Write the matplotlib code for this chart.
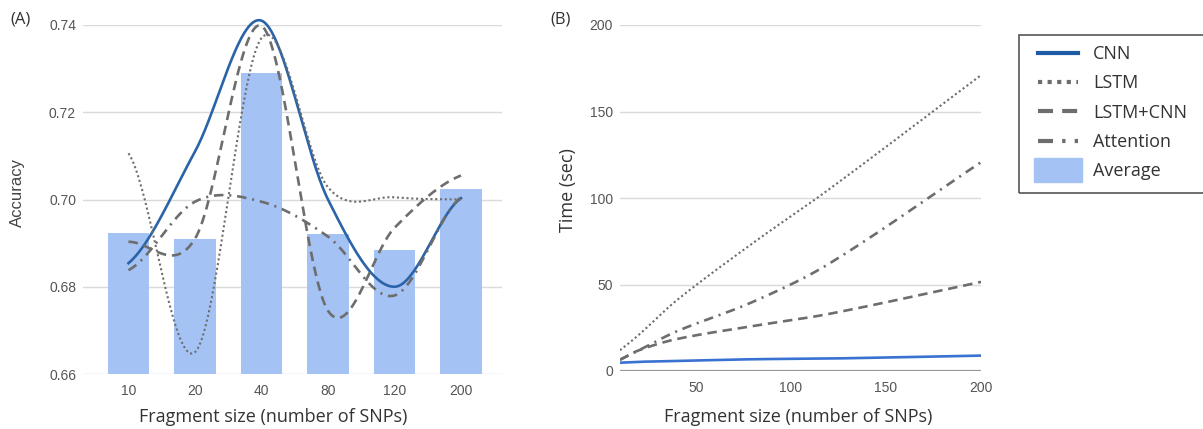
import numpy as np
import matplotlib
matplotlib.use("Agg")
import matplotlib.pyplot as plt
from matplotlib.lines import Line2D
from matplotlib.patches import Patch, Rectangle
from matplotlib.legend_handler import HandlerPatch

# data
sizes = ["10", "20", "40", "80", "120", "200"]
acc_cnn = [0.6854, 0.7110, 0.7410, 0.7000, 0.6800, 0.7003]
acc_lstm = [0.7106, 0.6650, 0.7370, 0.7028, 0.7005, 0.7000]
acc_lstm_cnn = [0.6903, 0.6910, 0.7398, 0.6745, 0.6935, 0.7055]
acc_attention = [0.6838, 0.6995, 0.6995, 0.6915, 0.6780, 0.7005]
acc_average = [0.6923, 0.6909, 0.7291, 0.6921, 0.6884, 0.7024]

frag = [10, 20, 40, 80, 120, 200]
time_cnn = [4.8, 5.3, 5.8, 6.8, 7.2, 8.9]
time_lstm = [12, 21, 41, 74, 105, 171]
time_lstm_cnn = [6.5, 12, 18.5, 26, 33, 51.5]
time_attention = [6.5, 12, 23, 40, 62, 120.7]

GRAY = "#6d6d6d"
BAR = "#a4c2f4"
GRID = "#dadada"
TICK = "#555555"


def smooth(x, y, end_full=False, n=40):
    # cubic hermite (catmull-rom style tangents) through the points
    x = np.asarray(x, float)
    y = np.asarray(y, float)
    m = np.zeros_like(y)
    m[1:-1] = (y[2:] - y[:-2]) / (x[2:] - x[:-2])
    k = 1.0 if end_full else 0.5
    m[0] = k * (y[1] - y[0]) / (x[1] - x[0])
    m[-1] = k * (y[-1] - y[-2]) / (x[-1] - x[-2])
    xs, ys = [], []
    for i in range(len(y) - 1):
        t = np.linspace(0, 1, n, endpoint=False)
        dx = x[i + 1] - x[i]
        h00 = 2 * t**3 - 3 * t**2 + 1
        h10 = t**3 - 2 * t**2 + t
        h01 = -2 * t**3 + 3 * t**2
        h11 = t**3 - t**2
        xs.append(x[i] + t * dx)
        ys.append(h00 * y[i] + h10 * dx * m[i] + h01 * y[i + 1] + h11 * dx * m[i + 1])
    xs.append([x[-1]])
    ys.append([y[-1]])
    return np.concatenate(xs), np.concatenate(ys)


styles = {
    "CNN": dict(color="#2b63a8", lw=1.9, ls="-"),
    "LSTM": dict(color=GRAY, lw=1.5, ls=(0, (1, 1.3))),
    "LSTM+CNN": dict(color=GRAY, lw=1.9, ls=(0, (3.6, 2.2))),
    "Attention": dict(color=GRAY, lw=1.9, ls=(0, (3.6, 2.2, 0.8, 2.2))),
}

fig = plt.figure(figsize=(12.03, 4.29), dpi=100)

# ---- (A) accuracy
ax1 = fig.add_axes([83 / 1203, 55 / 429, 419 / 1203, 349 / 429])
idx = np.arange(len(sizes))
ax1.bar(idx, acc_average, width=0.63, color=BAR, zorder=2)
for name, vals in [("CNN", acc_cnn), ("LSTM", acc_lstm),
                   ("LSTM+CNN", acc_lstm_cnn), ("Attention", acc_attention)]:
    xs, ys = smooth(idx, vals)
    ax1.plot(xs, ys, clip_on=False, zorder=3, **styles[name])
ax1.set_xlim(-0.684, 5.617)
ax1.set_ylim(0.66, 0.74)
ax1.set_yticks([0.66, 0.68, 0.70, 0.72, 0.74])
ax1.set_yticklabels(["0.66", "0.68", "0.70", "0.72", "0.74"])
ax1.set_xticks(idx)
ax1.set_xticklabels(sizes)
ax1.set_ylabel("Accuracy", fontsize=12, color="#444444", family="Liberation Sans")
ax1.yaxis.set_label_coords(-0.138, 0.52)
ax1.set_xlabel("Fragment size (number of SNPs)", fontsize=13, color="#333333",
               family="Open Sans")
ax1.xaxis.set_label_coords(0.453, -0.122)
ax1.xaxis.label.set_va("center")

# ---- (B) time
ax2 = fig.add_axes([620 / 1203, 58 / 429, 361 / 1203, 346 / 429])
xs, ys = smooth(frag, time_cnn, end_full=True)
ax2.plot(xs, ys, color="#3a72d2", lw=1.9, zorder=3)
for name, vals in [("LSTM", time_lstm), ("LSTM+CNN", time_lstm_cnn),
                   ("Attention", time_attention)]:
    xs, ys = smooth(frag, vals, end_full=True)
    ax2.plot(xs, ys, zorder=3, **styles[name])
ax2.set_xlim(10, 200)
ax2.set_ylim(0, 200)
ax2.set_xticks([50, 100, 150, 200])
ax2.set_yticks([0, 50, 100, 150, 200])
ax2.axhline(0, color="#999999", lw=1.6, zorder=2)
ax2.set_ylabel("Time (sec)", fontsize=13, color="#333333", family="Open Sans")
ax2.yaxis.set_label_coords(-0.12, 0.523)
ax2.set_xlabel("Fragment size (number of SNPs)", fontsize=13, color="#333333",
               family="Open Sans")
ax2.xaxis.set_label_coords(0.493, -0.133)
ax2.xaxis.label.set_va("center")

for ax in (ax1, ax2):
    for s in ax.spines.values():
        s.set_visible(False)
    ax.grid(axis="y", color=GRID, lw=1, zorder=0)
    ax.set_axisbelow(True)
    ax.tick_params(length=0, labelsize=10, labelcolor=TICK)
    ax.tick_params(axis="x", pad=7)
    ax.tick_params(axis="y", pad=5)
    for lab in ax.get_xticklabels() + ax.get_yticklabels():
        lab.set_family("Liberation Sans")

fig.text(10 / 1203, 1 - 20 / 429, "(A)", fontsize=12, color="#333333",
         family="Open Sans", va="center")
fig.text(550 / 1203, 1 - 20 / 429, "(B)", fontsize=12, color="#333333",
         family="Open Sans", va="center")

# ---- legend, frame runs off the right edge
fig.patches.append(Rectangle((1019 / 1203, 1 - 193 / 429), 300 / 1203, 158 / 429,
                             transform=fig.transFigure, fill=False,
                             edgecolor="#555555", lw=1.2, clip_on=False))
handles = [Line2D([], [], **{**styles["CNN"], "color": "#1f5aa6", "lw": 3}),
           Line2D([], [], **{**styles["LSTM"], "lw": 3}),
           Line2D([], [], **{**styles["LSTM+CNN"], "lw": 3}),
           Line2D([], [], **{**styles["Attention"], "lw": 3}),
           Patch(color=BAR)]
labels = ["CNN", "LSTM", "LSTM+CNN", "Attention", "Average"]


def big_patch(legend, orig_handle, xdescent, ydescent, width, height, fontsize):
    return Rectangle((-xdescent - 3, -ydescent - 4), width + 6, height + 8)


fig.legend(handles, labels, loc="upper left", bbox_to_anchor=(1038 / 1203, 1 - 45 / 429),
           frameon=False, prop={"family": "Open Sans", "size": 13},
           handlelength=2.2, handletextpad=0.85, labelspacing=0.63,
           borderpad=0, borderaxespad=0, labelcolor="#333333",
           handler_map={Patch: HandlerPatch(patch_func=big_patch)})

fig.savefig("out.png", dpi=100)
